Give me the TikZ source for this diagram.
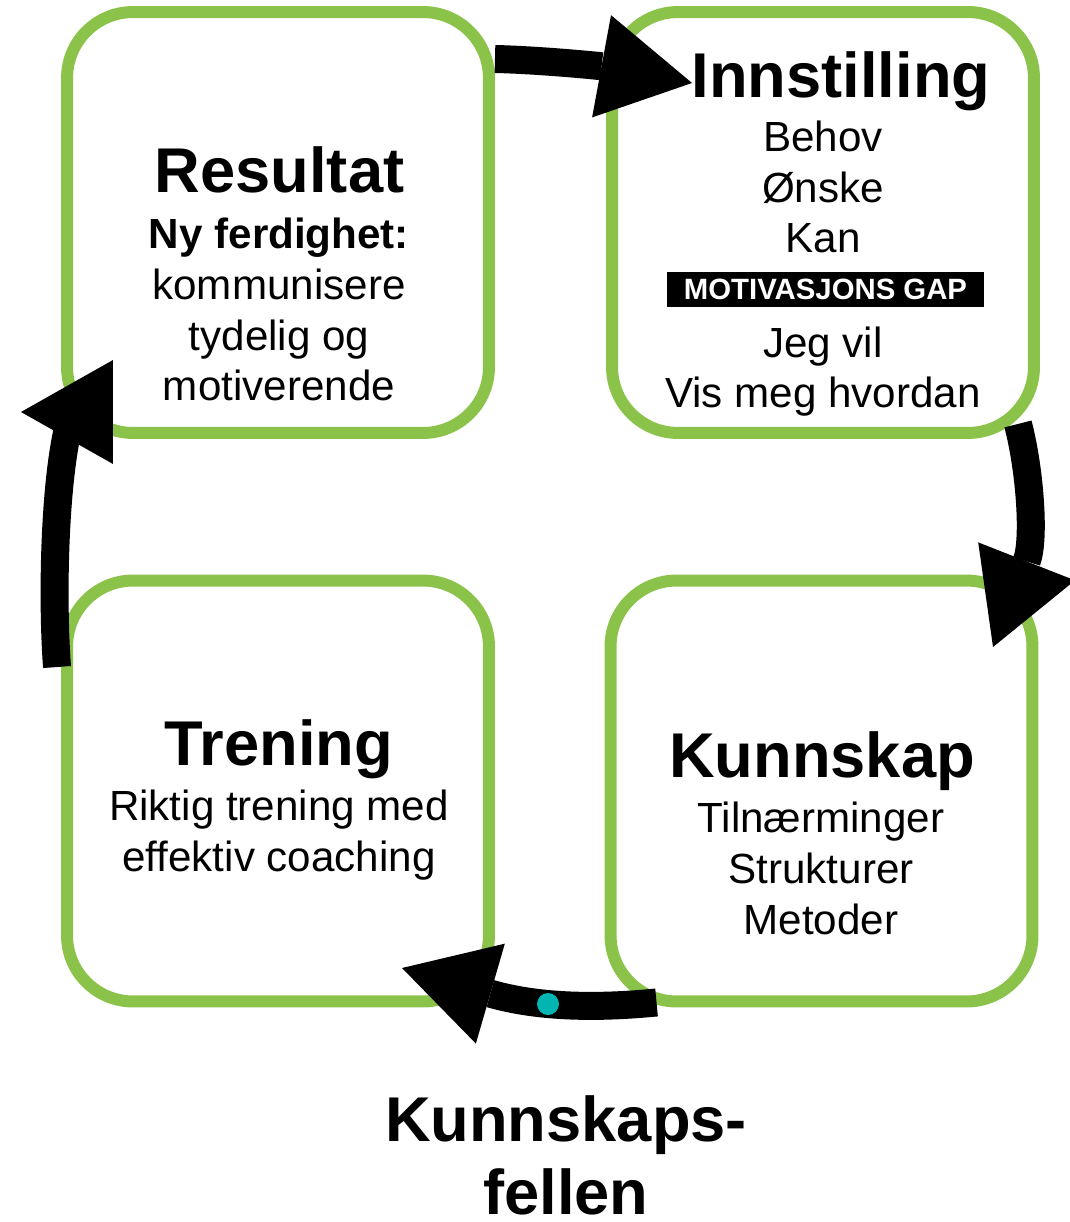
\documentclass[tikz,border=0pt]{standalone}
\usepackage{fontspec}
\setmainfont{Liberation Sans}
\usetikzlibrary{arrows.meta}
\definecolor{grn}{RGB}{139,195,74}
\definecolor{tealdot}{RGB}{0,181,178}
\begin{document}
\begin{tikzpicture}[x=.02cm,y=-.02cm,
 box/.style={draw=grn,line width=.24cm,rounded corners=1.32cm,minimum width=8.44cm,minimum height=8.42cm,inner sep=0},
 ttl/.style={font=\bfseries\fontsize{36}{41.5}\selectfont,anchor=base,inner sep=0,align=center},
 txt/.style={font=\fontsize{24}{29}\selectfont,anchor=base,inner sep=0,align=center},
 cyc/.style={line width=.56cm,-{Triangle[length=1.84cm,width=2.08cm,line width=0pt]}}]
\useasboundingbox (0,0) rectangle (1069,1222);
\node[box] (res) at (278,222.5) {};\node[box] (inn) at (823,222.5) {};
\node[box] (tr) at (278,791) {};\node[box] (kn) at (821.5,791) {};
\coordinate (hd1) at (692,83);\coordinate (hd2) at (993,647);\coordinate (hd3) at (402,968);\coordinate (hd4) at (21,412);
\draw[cyc] (res.37) .. controls (540,60) and (600,66) .. (hd1);
\draw[cyc] ([xshift=-.44cm,yshift=.3cm]inn.south east) .. controls (1030,470) and (1035,540) .. (hd2);
\draw[cyc] ([xshift=1.04cm,yshift=.1cm]kn.south west) .. controls (600,1008) and (540,1008) .. (hd3);
\draw[cyc] ([xshift=-.08cm,yshift=2.48cm]tr.west) .. controls (52,600) and (54,480) .. (70,420) ([xshift=1.84cm]hd4) -- (hd4);
\node[circle,fill=tealdot,minimum size=.44cm,inner sep=0] (dt) at (548,1004) {};
\node[ttl] (resT) at (279.5,193) {Resultat};
\node[txt] (resB) at (279,401) {\textbf{Ny ferdighet:}\\kommunisere\\tydelig og\\motiverende};
\node[ttl] (innT) at (841,98) {Innstilling};
\node[txt] (innB) at (823,253) {Behov\\Ønske\\Kan};
\node[fill=black,text=white,font=\bfseries\fontsize{16.7}{18}\selectfont,minimum width=6.34cm,minimum height=.7cm,inner sep=0] (gap) at (825.5,289.5) {MOTIVASJONS GAP};
\node[txt] (innC) at (823,408) {Jeg vil\\Vis meg hvordan};
\node[ttl] (trT) at (279,765) {Trening};\node[txt] (trB) at (279,871) {Riktig trening med\\effektiv coaching};
\node[ttl] (knT) at (822,777) {Kunnskap};\node[txt] (knB) at (821,934) {Tilnærminger\\Strukturer\\Metoder};
\node[ttl] (trap) at (566,1214) {Kunnskaps-\\fellen};
\end{tikzpicture}
\end{document}
